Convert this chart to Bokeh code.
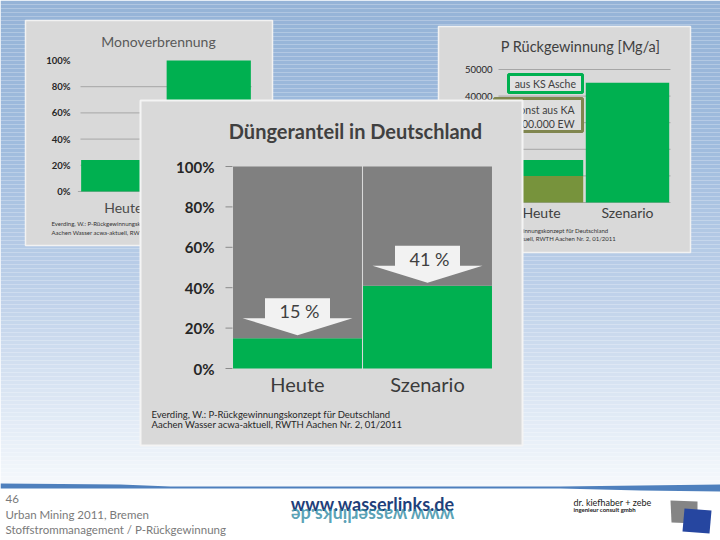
import math
from bokeh.plotting import figure
from bokeh.models import Range1d
from bokeh.embed import file_html
from bokeh.resources import INLINE
from bokeh.core.properties import value

# ---------------- data ----------------
mono_title = "Monoverbrennung"
mono_cats = ["Heute", "Szenario"]
mono_vals = [0.24, 1.00]
mono_ticks = [0.0, 0.2, 0.4, 0.6, 0.8, 1.0]
mono_tick_labels = ["0%", "20%", "40%", "60%", "80%", "100%"]

dung_title = "Düngeranteil in Deutschland"
dung_cats = ["Heute", "Szenario"]
dung_vals = [0.15, 0.41]
dung_labels = ["15 %", "41 %"]
dung_ticks = [0.0, 0.2, 0.4, 0.6, 0.8, 1.0]
dung_tick_labels = ["0%", "20%", "40%", "60%", "80%", "100%"]

rueck_title = "P Rückgewinnung [Mg/a]"
rueck_cats = ["Heute", "Szenario"]
rueck_ka = [10000, 0]
rueck_ks = [6000, 45000]
rueck_ticks = [0, 10000, 20000, 30000, 40000, 50000]
rueck_tick_labels = ["0", "10000", "20000", "30000", "40000", "50000"]
rueck_legend = ["aus KS Asche", "sonst aus KA", "> 100.000 EW"]

source_lines = ["Everding, W.: P-Rückgewinnungskonzept für Deutschland",
                "Aachen Wasser acwa-aktuell, RWTH Aachen Nr. 2, 01/2011"]
footer_lines = ["46", "Urban Mining 2011, Bremen", "Stoffstrommanagement / P-Rückgewinnung"]

# ---------------- canvas ----------------
X0, X1 = 0, 720
Y0, Y1 = 0, 540
FONT = value("Lato")

p = figure(width=X1 - X0, height=Y1 - Y0, x_range=Range1d(X0, X1), y_range=Range1d(Y1, Y0),
           x_axis_type=None, y_axis_type=None, output_backend="svg",
           toolbar_location=None, min_border=0)
p.outline_line_color = None
p.background_fill_color = "white"
p.border_fill_color = "white"


def make_range(v0, p0, v1, p1, s, e):
    k = (v1 - v0) / (p1 - p0)
    return Range1d(start=v0 + (s - p0) * k, end=v0 + (e - p0) * k)


def xr(v0, p0, v1, p1):
    return make_range(v0, p0, v1, p1, X0, X1)


def yr(v0, p0, v1, p1):
    return make_range(v0, p0, v1, p1, Y1, Y0)


def txt(x, y, t, size, color="#404040", align="center", style="normal", **kw):
    p.text(x=x, y=y, text=t, text_font=FONT, text_font_size=size, text_color=color,
           text_align=align, text_baseline="middle", text_font_style=style, **kw)


# ---------------- background gradient ----------------
stops = [(0, (149, 179, 215)), (150, (160, 188, 222)), (300, (192, 210, 234)),
         (420, (226, 235, 246)), (486, (246, 249, 252))]


def col_at(y):
    for (ya, ca), (yb, cb) in zip(stops[:-1], stops[1:]):
        if ya <= y <= yb:
            t = (y - ya) / (yb - ya)
            c = [round(a + (b - a) * t) for a, b in zip(ca, cb)]
            return "#%02x%02x%02x" % tuple(c)
    return "#f6f9fc"


band_top = list(range(0, 486, 4))
p.quad(left=0, right=720, top=band_top, bottom=[b + 4 for b in band_top],
       fill_color=[col_at(b + 2) for b in band_top], line_color=None)

# ---------------- panel 1: Monoverbrennung ----------------
p.quad(left=25, right=272, top=20, bottom=245, fill_color="#d9d9d9", line_color="#f2f2f2", line_width=1.5)
p.extra_x_ranges["m"] = xr(0, 80, 2, 251)
p.extra_y_ranges["m"] = yr(0, 191, 1, 60)
grid_m = mono_ticks[1:-1]
p.segment(x0=0, x1=2, y0=grid_m, y1=grid_m, line_color="#a6a6a6", line_width=1,
          x_range_name="m", y_range_name="m")
p.segment(x0=-0.03, x1=2, y0=0, y1=0, line_color="#a6a6a6", line_width=1,
          x_range_name="m", y_range_name="m")
p.vbar(x=[0.5, 1.5], width=0.985, bottom=0, top=mono_vals, fill_color="#00b050",
       line_color=None, x_range_name="m", y_range_name="m")
txt(70, mono_ticks, mono_tick_labels, "9.5px", "#262626", align="right", style="bold", y_range_name="m")
txt(158, 41, [mono_title], "14px", "#595959")
txt([0.5, 1.5], 207, mono_cats, "14px", "#4a4a4a", x_range_name="m")
txt(51, [223, 232], source_lines, "6px", "#333333", align="left")

# ---------------- panel 3: P Rückgewinnung ----------------
p.quad(left=438, right=690, top=26, bottom=252, fill_color="#d9d9d9", line_color="#f2f2f2", line_width=1.5)
p.extra_x_ranges["r"] = xr(0, 498, 2, 670)
p.extra_y_ranges["r"] = yr(0, 202, 50000, 69)
p.segment(x0=0, x1=2, y0=rueck_ticks, y1=rueck_ticks, line_color="#a6a6a6", line_width=1,
          x_range_name="r", y_range_name="r")
tot = [a + b for a, b in zip(rueck_ka, rueck_ks)]
p.vbar(x=[0.5, 1.5], width=0.97, bottom=0, top=rueck_ka, fill_color="#77933c",
       line_color=None, x_range_name="r", y_range_name="r")
p.vbar(x=[0.5, 1.5], width=0.97, bottom=rueck_ka, top=tot, fill_color="#00b050",
       line_color=None, x_range_name="r", y_range_name="r")
txt(492, rueck_ticks, rueck_tick_labels, "9.5px", "#262626", align="right", y_range_name="r")
txt(580, 46, [rueck_title], "14.5px", "#404040")
txt([0.5, 1.5], 212, rueck_cats, "14px", "#404040", x_range_name="r")
txt(457, [230, 238], source_lines, "6px", "#333333", align="left")
# legend boxes
p.quad(left=508, right=582, top=74, bottom=92, fill_color="#e2e2e2", line_color="#00b050", line_width=3)
txt(545, 83, [rueck_legend[0]], "10.5px", "#404040")
p.quad(left=494, right=582, top=98, bottom=131, fill_color="#dedede", line_color="#80864f", line_width=3)
txt(574, [109, 123], rueck_legend[1:], "10.5px", "#404040", align="right")

# ---------------- central panel: Düngeranteil ----------------
p.quad(left=140, right=522, top=100, bottom=445, fill_color="#d9d9d9", line_color="#f4f4f4", line_width=2)
DX0, DX2, DY0, DY1 = 232, 492, 368, 166
p.extra_x_ranges["d"] = xr(0, DX0, 2, DX2)
p.extra_y_ranges["d"] = yr(0, DY0, 1, DY1)
sx = (DX2 - DX0) / 2.0
sy = float(DY0 - DY1)
p.vbar(x=[0.5, 1.5], width=0.992, bottom=0, top=dung_vals, fill_color="#00b050",
       line_color=None, x_range_name="d", y_range_name="d")
p.vbar(x=[0.5, 1.5], width=0.992, bottom=dung_vals, top=1, fill_color="#808080",
       line_color=None, x_range_name="d", y_range_name="d")
p.segment(x0=225, x1=232, y0=dung_ticks, y1=dung_ticks, line_color="#8a8a8a", line_width=1,
          y_range_name="d")
txt(214, dung_ticks, dung_tick_labels, "15px", "#262626", align="right", style="bold", y_range_name="d")
txt(355, 130, [dung_title], "20px", "#404040", style="bold")
txt([0.5, 1.5], 383, dung_cats, "20px", "#3b3b3b", x_range_name="d")
txt(151, [414, 424], source_lines, "9.5px", "#262626", align="left")

# arrows pointing to the bar tops
axs, ays, lx, ly = [], [], [], []
for i, v in enumerate(dung_vals):
    cx = i + 0.5
    tip = v + 3 / sy
    head = tip + 17 / sy
    body = head + 20 / sy
    hw, bw = 55 / sx, 32.5 / sx
    axs.append([cx, cx - hw, cx - bw, cx - bw, cx + bw, cx + bw, cx + hw])
    ays.append([tip, head, head, body, body, head, head])
    lx.append(cx + 2 / sx)
    ly.append(tip + 24 / sy)
p.patches(xs=axs, ys=ays, fill_color="#f2f2f2", line_color=None, x_range_name="d", y_range_name="d")
txt(lx, ly, dung_labels, "18px", "#404040", x_range_name="d", y_range_name="d")

# ---------------- footer ----------------
p.quad(left=0, right=720, top=488, bottom=540, fill_color="white", line_color=None)
p.patch(x=[0, 120, 170, 560, 640, 720, 720, 640, 560, 170, 120, 0],
        y=[483, 484, 486, 486, 485, 484, 491, 490, 488, 488, 488, 488],
        fill_color="#4f80bd", line_color=None)
txt(5, [498, 514, 529], footer_lines, "11.5px", "#7a7a7a", align="left")
txt(372, 503, ["www.wasserlinks.de"], "18px", "#1f3f7a", style="bold")
txt(372, 515, ["www.wasserlinks.de"], "18px", "#2f8aa3", style="bold", angle=math.pi, text_alpha=0.8)
txt(573, 502, ["dr. kiefhaber + zebe"], "9px", "#1a1a1a", align="left")
txt(573, 509, ["ingenieur consult gmbh"], "6px", "#1a1a1a", align="left", style="bold")
p.patch(x=[670, 697, 697, 671], y=[500, 501, 523, 522], fill_color="#858585", line_color=None)
p.patch(x=[684, 711, 709, 682], y=[508, 510, 533, 531], fill_color="#2646a0", line_color=None)

open("out.html", "w").write(file_html(p, INLINE))
